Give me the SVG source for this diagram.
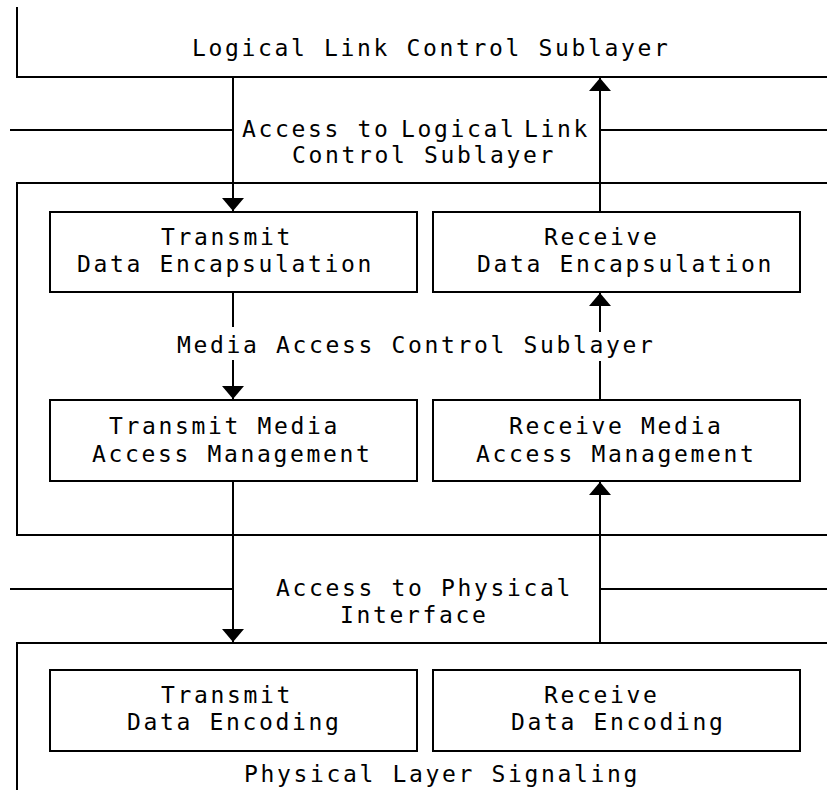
<svg xmlns="http://www.w3.org/2000/svg" width="827" height="794" viewBox="0 0 827 794">
  <defs>
    <style>
      .ln { stroke: #000; stroke-width: 2; fill: none; }
      .box { stroke: #000; stroke-width: 2; fill: #fff; }
      .t { font-family: "DejaVu Sans Mono", "Liberation Mono", monospace; font-size: 23px; letter-spacing: 2.65px; fill: #000; }
    </style>
    <marker id="arrow" viewBox="0 0 13 22" refX="13" refY="11" markerWidth="13" markerHeight="22" markerUnits="userSpaceOnUse" orient="auto">
      <path d="M0,0 L13,11 L0,22 z" fill="#000"/>
    </marker>
  </defs>
  <rect width="827" height="794" fill="#fff"/>

  <!-- Layer outlines -->
  <g id="llc-sublayer">
    <path class="ln" d="M17,7 V77 H827"/>
    <text class="t" x="192" y="56">Logical Link Control Sublayer</text>
  </g>
  <g id="llc-access">
    <path class="ln" d="M10,130 H233 M600,130 H827"/>
    <text class="t" y="137"><tspan x="242">Access to</tspan><tspan x="401">Logical</tspan><tspan x="524">Link</tspan></text>
    <text class="t" x="292" y="163">Control Sublayer</text>
  </g>
  <g id="mac-sublayer">
    <path class="ln" d="M827,183 H17 V535 H827"/>
    <text class="t" x="177" y="353">Media Access Control Sublayer</text>
  </g>
  <g id="phy-access">
    <path class="ln" d="M10,589 H233 M600,589 H827"/>
    <text class="t" x="276" y="596">Access to Physical</text>
    <text class="t" x="340" y="623">Interface</text>
  </g>
  <g id="pls-layer">
    <path class="ln" d="M827,643 H17 V790"/>
    <text class="t" x="244" y="782">Physical Layer Signaling</text>
  </g>

  <!-- Function blocks -->
  <g id="tx-encap">
    <rect class="box" x="50" y="212" width="367" height="80"/>
    <text class="t" x="161" y="245">Transmit</text>
    <text class="t" x="77" y="272">Data Encapsulation</text>
  </g>
  <g id="rx-encap">
    <rect class="box" x="433" y="212" width="367" height="80"/>
    <text class="t" x="544" y="245">Receive</text>
    <text class="t" x="477" y="272">Data Encapsulation</text>
  </g>
  <g id="tx-mam">
    <rect class="box" x="50" y="400" width="367" height="81"/>
    <text class="t" x="109" y="434">Transmit Media</text>
    <text class="t" x="92" y="462">Access Management</text>
  </g>
  <g id="rx-mam">
    <rect class="box" x="433" y="400" width="367" height="81"/>
    <text class="t" x="509" y="434">Receive Media</text>
    <text class="t" x="476" y="462">Access Management</text>
  </g>
  <g id="tx-encode">
    <rect class="box" x="50" y="670" width="367" height="81"/>
    <text class="t" x="161" y="703">Transmit</text>
    <text class="t" x="127" y="730">Data Encoding</text>
  </g>
  <g id="rx-encode">
    <rect class="box" x="433" y="670" width="367" height="81"/>
    <text class="t" x="544" y="703">Receive</text>
    <text class="t" x="511" y="730">Data Encoding</text>
  </g>

  <!-- Data flow connectors -->
  <g id="connectors" class="ln">
    <line x1="233" y1="77" x2="233" y2="211" marker-end="url(#arrow)"/>
    <line x1="233" y1="292" x2="233" y2="327"/>
    <line x1="233" y1="360" x2="233" y2="399" marker-end="url(#arrow)"/>
    <line x1="233" y1="481" x2="233" y2="642" marker-end="url(#arrow)"/>
    <line x1="600" y1="643" x2="600" y2="482" marker-end="url(#arrow)"/>
    <line x1="600" y1="400" x2="600" y2="361"/>
    <line x1="600" y1="332" x2="600" y2="293" marker-end="url(#arrow)"/>
    <line x1="600" y1="212" x2="600" y2="78" marker-end="url(#arrow)"/>
  </g>
</svg>
